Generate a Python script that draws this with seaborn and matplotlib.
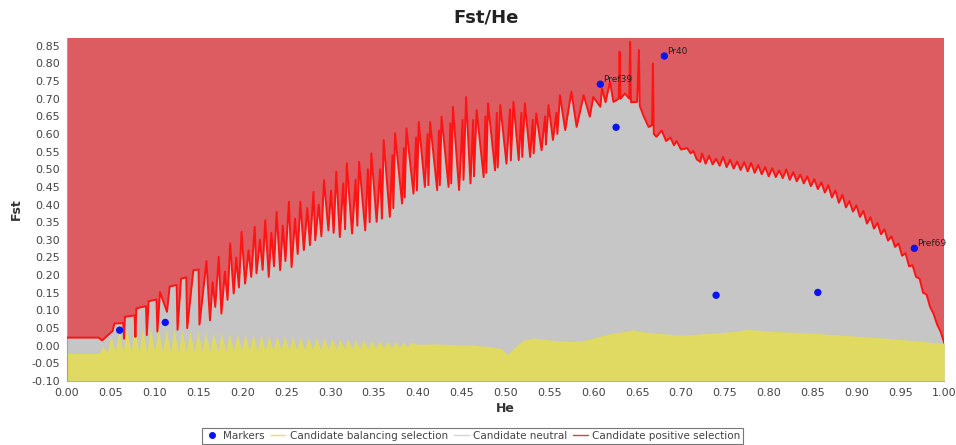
import numpy as np
import pandas as pd
import matplotlib
matplotlib.use("Agg")
import matplotlib.pyplot as plt
import seaborn as sns
from matplotlib.lines import Line2D

# upper edge of the neutral zone (red line), He / Fst pairs
upper_he = [0.000, 0.036, 0.040, 0.052, 0.054, 0.064, 0.065, 0.066, 0.077, 0.078, 0.079, 0.090, 0.091,
            0.093, 0.102, 0.103, 0.106, 0.114, 0.117, 0.125, 0.126, 0.130, 0.136, 0.137, 0.144, 0.150,
            0.151,
            0.159, 0.163, 0.166, 0.169, 0.173, 0.176, 0.180, 0.183, 0.186, 0.190, 0.193, 0.196, 0.199,
            0.203, 0.207, 0.210, 0.214, 0.216, 0.220, 0.223, 0.226, 0.230, 0.233, 0.236, 0.239, 0.243,
            0.246, 0.249, 0.253, 0.256, 0.260, 0.263, 0.266, 0.270, 0.274, 0.277, 0.281, 0.283, 0.287,
            0.290, 0.293, 0.298, 0.301, 0.304, 0.307, 0.311, 0.315, 0.317, 0.319, 0.325, 0.329, 0.331,
            0.333, 0.340, 0.343, 0.345, 0.347, 0.353,
            0.357, 0.359, 0.361, 0.368, 0.371, 0.372, 0.374, 0.382, 0.384, 0.385, 0.387, 0.395, 0.398,
            0.399, 0.401, 0.408, 0.411, 0.412, 0.414, 0.422, 0.424, 0.425, 0.427, 0.435, 0.437, 0.438,
            0.440, 0.447, 0.451, 0.452, 0.455, 0.460, 0.463, 0.464, 0.467, 0.475, 0.477, 0.478, 0.480,
            0.488, 0.490, 0.491, 0.494, 0.501, 0.505, 0.506, 0.509, 0.515, 0.518, 0.519, 0.522, 0.528,
            0.531, 0.532, 0.535, 0.541, 0.545, 0.546, 0.549, 0.554, 0.558, 0.559, 0.562, 0.568,
            0.575, 0.581, 0.589, 0.596, 0.600, 0.608, 0.610, 0.614, 0.619, 0.623, 0.629, 0.630, 0.631,
            0.636, 0.641, 0.642, 0.643, 0.650, 0.652, 0.653, 0.657, 0.663, 0.667, 0.668, 0.669, 0.672,
            0.678, 0.683, 0.688, 0.692, 0.695, 0.700, 0.707, 0.711, 0.714, 0.718, 0.722,
            0.724, 0.728, 0.732, 0.736, 0.740, 0.744, 0.748, 0.752, 0.756, 0.760, 0.764, 0.768, 0.772,
            0.776, 0.780, 0.784, 0.788, 0.792, 0.796, 0.800, 0.804, 0.808, 0.812, 0.816, 0.820, 0.824,
            0.828, 0.832, 0.836, 0.840, 0.844, 0.848, 0.852, 0.856, 0.860, 0.864, 0.868, 0.872, 0.876,
            0.880, 0.884, 0.888, 0.892, 0.896, 0.900, 0.904, 0.908, 0.912, 0.916, 0.920, 0.924, 0.928,
            0.932, 0.936, 0.940, 0.944, 0.948, 0.952, 0.956, 0.960, 0.964, 0.968, 0.972, 0.976, 0.980,
            0.984, 0.988, 0.992, 0.996, 1.000]
upper_fst = [0.023, 0.023, 0.015, 0.042, 0.063, 0.064, 0.020, 0.082, 0.086, 0.025, 0.106, 0.112, 0.030,
             0.126, 0.131, 0.040, 0.152, 0.096, 0.168, 0.172, 0.045, 0.190, 0.194, 0.050, 0.214, 0.216,
             0.060,
             0.240, 0.072, 0.180, 0.110, 0.252, 0.091, 0.210, 0.130, 0.290, 0.148, 0.250, 0.165, 0.323,
             0.176, 0.270, 0.195, 0.337, 0.205, 0.300, 0.215, 0.356, 0.195, 0.320, 0.225, 0.379, 0.214,
             0.340, 0.240, 0.408, 0.223, 0.360, 0.260, 0.408, 0.271, 0.390, 0.285, 0.436, 0.299, 0.400,
             0.310, 0.469, 0.327, 0.440, 0.320, 0.493, 0.308, 0.460, 0.330, 0.517, 0.318, 0.470, 0.340,
             0.521, 0.327, 0.500, 0.350, 0.545, 0.351,
             0.500, 0.360, 0.583, 0.365, 0.540, 0.390, 0.602, 0.403, 0.560, 0.420, 0.616, 0.431, 0.590,
             0.440, 0.634, 0.450, 0.600, 0.455, 0.634, 0.441, 0.610, 0.455, 0.649, 0.450, 0.630, 0.460,
             0.677, 0.441, 0.640, 0.470, 0.705, 0.460, 0.640, 0.480, 0.668, 0.478, 0.650, 0.490, 0.687,
             0.497, 0.660, 0.505, 0.682, 0.516, 0.670, 0.525, 0.691, 0.526, 0.660, 0.535, 0.687, 0.535,
             0.640, 0.545, 0.658, 0.554, 0.650, 0.570, 0.682, 0.583, 0.660, 0.600, 0.710, 0.611,
             0.720, 0.620, 0.710, 0.649, 0.705, 0.677, 0.729, 0.690, 0.748, 0.691, 0.700, 0.833, 0.700,
             0.715, 0.700, 0.861, 0.690, 0.691, 0.838, 0.680, 0.653, 0.620, 0.625, 0.800, 0.600, 0.592,
             0.610, 0.580, 0.590, 0.568, 0.580, 0.556, 0.560, 0.545, 0.552, 0.528, 0.521,
             0.545, 0.516, 0.538, 0.514, 0.530, 0.510, 0.535, 0.506, 0.527, 0.502, 0.522, 0.498, 0.520,
             0.494, 0.518, 0.490, 0.512, 0.486, 0.506, 0.480, 0.503, 0.478, 0.497, 0.475, 0.500, 0.470,
             0.492, 0.466, 0.485, 0.460, 0.480, 0.452, 0.472, 0.444, 0.463, 0.434, 0.455, 0.420, 0.440,
             0.405, 0.428, 0.392, 0.410, 0.380, 0.398, 0.365, 0.382, 0.346, 0.364, 0.332, 0.348, 0.316,
             0.330, 0.298, 0.310, 0.280, 0.290, 0.255, 0.262, 0.225, 0.228, 0.195, 0.190, 0.150, 0.145,
             0.110, 0.090, 0.060, 0.040, 0.008]

# top of the balancing-selection zone (yellow)
lower_he = [0.000, 0.037, 0.041, 0.046, 0.050, 0.055, 0.059, 0.064, 0.068, 0.073, 0.077, 0.082, 0.086,
            0.091, 0.095, 0.100, 0.104, 0.109, 0.113, 0.118, 0.122, 0.127, 0.131, 0.136, 0.140, 0.145,
            0.149, 0.154, 0.158, 0.163, 0.167, 0.172, 0.176, 0.181, 0.185, 0.190, 0.194, 0.199, 0.203,
            0.208, 0.212, 0.217, 0.221, 0.226, 0.230, 0.235, 0.239, 0.244, 0.248, 0.253, 0.257, 0.262,
            0.266, 0.271, 0.275, 0.280, 0.284, 0.289, 0.293, 0.298, 0.302, 0.307, 0.311, 0.316, 0.320,
            0.325, 0.329, 0.334, 0.338, 0.343, 0.347, 0.352, 0.356, 0.361, 0.365, 0.370, 0.374, 0.379,
            0.383, 0.388, 0.392, 0.400, 0.420, 0.440, 0.460, 0.480, 0.495, 0.502, 0.510, 0.520, 0.532,
            0.545, 0.560, 0.575, 0.590, 0.605, 0.620, 0.635, 0.645, 0.655, 0.670, 0.690, 0.705, 0.720,
            0.740, 0.760, 0.775, 0.790, 0.810, 0.840, 0.870, 0.900, 0.930, 0.960, 0.980, 1.000]
lower_fst = [-0.022, -0.022, 0.000, -0.020, 0.030, -0.020, 0.045, -0.020, 0.050, -0.020, 0.052, -0.020,
             0.050, -0.020, 0.052, -0.019, 0.050, -0.019, 0.048, -0.019, 0.047, -0.018, 0.045, -0.018,
             0.044, -0.018, 0.043, -0.017, 0.040, -0.017, 0.038, -0.016, 0.037, -0.016, 0.036, -0.015,
             0.035, -0.015, 0.034, -0.014, 0.033, -0.014, 0.032, -0.013, 0.030, -0.013, 0.029, -0.012,
             0.028, -0.012, 0.027, -0.011, 0.025, -0.011, 0.024, -0.010, 0.023, -0.010, 0.022, -0.009,
             0.020, -0.009, 0.019, -0.008, 0.018, -0.008, 0.017, -0.007, 0.016, -0.007, 0.015, -0.006,
             0.014, -0.006, 0.013, -0.005, 0.012, -0.005, 0.011, -0.004, 0.010, 0.004, 0.005, 0.003,
             0.002, -0.002, -0.008, -0.025, -0.005, 0.015, 0.022, 0.018, 0.014, 0.012, 0.015, 0.025,
             0.035, 0.040, 0.045, 0.040, 0.036, 0.032, 0.030, 0.033, 0.036, 0.040, 0.046, 0.044, 0.040,
             0.037, 0.032, 0.027, 0.022, 0.016, 0.011, 0.006]

# markers
marker_he = [0.060, 0.112, 0.608, 0.681, 0.626, 0.740, 0.856, 0.966]
marker_fst = [0.044, 0.066, 0.741, 0.821, 0.619, 0.143, 0.151, 0.276]
marker_names = ["", "", "Pref39", "Pr40", "", "", "", "Pref69"]

RED_BG = "#DC5C62"
GRAY = "#C6C6C6"
YELLOW = "#E0DA62"
RED_LINE = "#FF1414"

sns.set_theme(style="white")
plt.rcParams["font.family"] = ["DejaVu Sans"]

fig = plt.figure(figsize=(9.56, 4.45), dpi=100)
ax = fig.add_axes([0.0701, 0.1438, 0.9175, 0.7708])
ax.set_facecolor(RED_BG)

ax.fill_between(upper_he, upper_fst, -0.1, color=GRAY, lw=0, zorder=1)
ax.fill_between(lower_he, lower_fst, -0.1, color=YELLOW, lw=0, zorder=2)

edge = pd.DataFrame({"He": upper_he, "Fst": upper_fst})
sns.lineplot(data=edge, x="He", y="Fst", sort=False, estimator=None, color=RED_LINE,
             lw=1.4, ax=ax, zorder=3)

pts = pd.DataFrame({"He": marker_he, "Fst": marker_fst, "name": marker_names})
sns.scatterplot(data=pts, x="He", y="Fst", color="#0A14F0", s=28, edgecolor="none",
                ax=ax, zorder=5)
for _, r in pts.iterrows():
    if r["name"]:
        ax.text(r["He"] + 0.003, r["Fst"] + 0.006, r["name"], fontsize=6.5,
                color="#222222", zorder=6)

ax.set_xlim(0, 1)
ax.set_ylim(-0.1, 0.872)
ax.set_xticks(np.arange(0, 1.001, 0.05))
ax.set_xticklabels([f"{v:.2f}" for v in np.arange(0, 1.001, 0.05)])
ax.set_yticks(np.arange(-0.10, 0.851, 0.05))
ax.set_yticklabels([f"{v:.2f}" for v in np.arange(-0.10, 0.851, 0.05)])
ax.tick_params(axis="both", labelsize=8, colors="#555555", length=3, width=0.6,
               direction="out", pad=2)
ax.tick_params(axis="both", labelcolor="#444444")
for s in ["top", "right"]:
    ax.spines[s].set_visible(False)
ax.spines["left"].set_color("#9A9FC0")
ax.spines["bottom"].set_color("#B0B0B0")
ax.spines["left"].set_linewidth(0.8)
ax.spines["bottom"].set_linewidth(0.8)

ax.set_xlabel("He", fontsize=9, fontweight="bold", color="#333333", labelpad=3)
ax.set_ylabel("Fst", fontsize=9, fontweight="bold", color="#333333", labelpad=6)
fig.text(0.508, 0.96, "Fst/He", ha="center", va="center", fontsize=13,
         fontweight="bold", color="#222222")

handles = [
    Line2D([], [], marker="o", ls="none", color="#0A14F0", markersize=4),
    Line2D([], [], color="#E6E25A", lw=1),
    Line2D([], [], color="#D4D4D4", lw=1),
    Line2D([], [], color="#E03A3A", lw=1),
]
labels = ["Markers", "Candidate balancing selection", "Candidate neutral",
          "Candidate positive selection"]
leg = fig.legend(handles, labels, loc="center", bbox_to_anchor=(0.494, 0.02), ncol=4,
                 fontsize=7.5, frameon=True, fancybox=False, handlelength=1.4,
                 handletextpad=0.4, columnspacing=0.6, borderpad=0.25)
leg.get_frame().set_edgecolor("#555555")
leg.get_frame().set_linewidth(0.8)
for t in leg.get_texts():
    t.set_color("#444444")

fig.savefig("out.png", dpi=100)
